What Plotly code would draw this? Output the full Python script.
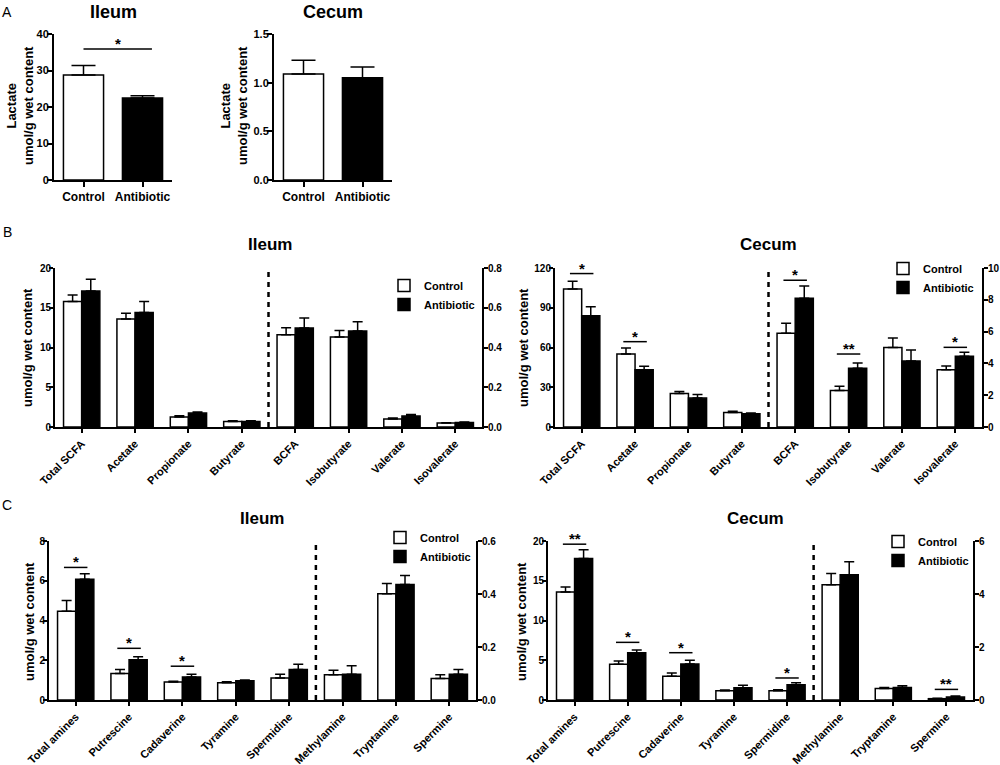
import plotly.graph_objects as go

W, H = 1000, 765
FONT = "Liberation Sans, Arial, sans-serif"

# ---- A: lactate (mean, SEM)
lactate_groups = ["Control", "Antibiotic"]
lactate_ileum = [28.8, 22.5]
lactate_ileum_sem = [2.6, 0.6]
lactate_cecum = [1.09, 1.05]
lactate_cecum_sem = [0.14, 0.11]
lactate_ileum_sig = 35.9

# ---- B: short chain fatty acids
scfa_names = ["Total SCFA", "Acetate", "Propionate", "Butyrate",
              "BCFA", "Isobutyrate", "Valerate", "Isovalerate"]
scfa_split = 4  # first 4 on left axis, rest on right axis

scfa_ileum_ctrl = [15.8, 13.6, 1.25, 0.70, 0.464, 0.453, 0.040, 0.020]
scfa_ileum_ctrl_sem = [0.8, 0.7, 0.15, 0.10, 0.036, 0.033, 0.005, 0.002]
scfa_ileum_abx = [17.1, 14.4, 1.75, 0.70, 0.498, 0.483, 0.055, 0.023]
scfa_ileum_abx_sem = [1.5, 1.4, 0.15, 0.08, 0.050, 0.047, 0.008, 0.002]
scfa_ileum_sig = []

scfa_cecum_ctrl = [104.2, 55.1, 25.3, 11.0, 5.9, 2.3, 5.0, 3.6]
scfa_cecum_ctrl_sem = [5.8, 4.5, 1.5, 0.8, 0.63, 0.27, 0.6, 0.24]
scfa_cecum_abx = [84.0, 43.3, 21.8, 10.0, 8.1, 3.7, 4.15, 4.45]
scfa_cecum_abx_sem = [6.7, 2.6, 2.8, 0.5, 0.77, 0.33, 0.7, 0.25]
# (category index, bracket height, label)
scfa_cecum_sig = [(0, 115.8, "*"), (1, 64.4, "*"), (4, 9.23, "*"),
                  (5, 4.59, "**"), (7, 5.01, "*")]

# ---- C: biogenic amines
amine_names = ["Total amines", "Putrescine", "Cadaverine", "Tyramine",
               "Spermidine", "Methylamine", "Tryptamine", "Spermine"]
amine_split = 5

amine_ileum_ctrl = [4.47, 1.33, 0.91, 0.87, 1.11, 0.095, 0.401, 0.081]
amine_ileum_ctrl_sem = [0.53, 0.20, 0.03, 0.05, 0.18, 0.017, 0.039, 0.014]
amine_ileum_abx = [6.08, 2.02, 1.16, 0.97, 1.53, 0.097, 0.436, 0.097]
amine_ileum_abx_sem = [0.27, 0.16, 0.13, 0.03, 0.27, 0.032, 0.034, 0.018]
amine_ileum_sig = [(0, 6.67, "*"), (1, 2.6, "*"), (2, 1.7, "*")]

amine_cecum_ctrl = [13.6, 4.49, 3.0, 1.17, 1.17, 4.35, 0.43, 0.05]
amine_cecum_ctrl_sem = [0.6, 0.41, 0.4, 0.09, 0.13, 0.42, 0.04, 0.013]
amine_cecum_abx = [17.8, 5.95, 4.53, 1.55, 1.93, 4.73, 0.47, 0.11]
amine_cecum_abx_sem = [1.1, 0.35, 0.47, 0.30, 0.25, 0.49, 0.07, 0.04]
amine_cecum_sig = [(0, 19.6, "**"), (1, 7.25, "*"), (2, 5.95, "*"),
                   (4, 2.77, "*"), (7, 0.4, "**")]


def xd(a, b):
    return [a / W, b / W]


def yd(top, bottom):
    return [1 - bottom / H, 1 - top / H]


def tick_font(size=10):
    return dict(family=FONT, size=size, color="black", weight="bold")


def title_font(size=13):
    return dict(family=FONT, size=size, color="black", weight="bold")


AXIS = dict(showline=True, linecolor="black", linewidth=2, ticks="outside",
            ticklen=5, tickwidth=2, tickcolor="black", showgrid=False,
            zeroline=False, automargin=False, fixedrange=True)

fig = go.Figure()
shapes, notes = [], []


def bar(x, y, sem, fill, xa, ya, width, offset, name, legend=None, cap=5):
    return go.Bar(
        x=x, y=y, xaxis=xa, yaxis=ya, width=width, offset=offset, name=name,
        marker=dict(color=fill, line=dict(color="black", width=1.5)),
        error_y=dict(type="data", symmetric=False, array=sem,
                     arrayminus=[0] * len(sem), color="black",
                     thickness=1.5, width=cap),
        showlegend=legend is not None, legend=legend or "legend",
        hoverinfo="skip",
    )


def bracket(xa, ya, i, h, label, half=0.22):
    shapes.append(dict(type="line", xref=xa, yref=ya, x0=i - half, x1=i + half,
                       y0=h, y1=h, line=dict(color="black", width=1.5)))
    notes.append(dict(xref=xa, yref=ya, x=i, y=h, text=label, showarrow=False,
                      yanchor="bottom", yshift=-5, font=title_font(15)))


def text(x, y, s, size=17, angle=0, bold=True):
    font = title_font(size) if bold else dict(family=FONT, size=size, color="black")
    notes.append(dict(xref="paper", yref="paper", x=x / W, y=1 - y / H,
                      text=s, showarrow=False, xanchor="center",
                      yanchor="middle", textangle=angle, font=font))


# ---- panel A
for k, (vals, sem, dom, top, dt, fmt) in enumerate([
    (lactate_ileum, lactate_ileum_sem, (54, 172), 40, 10, "d"),
    (lactate_cecum, lactate_cecum_sem, (274, 392), 1.5, 0.5, ".1f"),
]):
    n = k + 1
    sfx = "" if n == 1 else str(n)
    xa, ya = f"x{sfx}", f"y{sfx}"
    for i, fill in enumerate(["white", "black"]):
        fig.add_trace(bar([i], [vals[i]], [sem[i]], fill, xa, ya, 0.68, -0.34,
                          lactate_groups[i], cap=12))
    fig.layout[f"xaxis{sfx}"] = dict(
        AXIS, domain=xd(*dom), anchor=ya, range=[-0.5, 1.5], tickvals=[0, 1],
        ticktext=lactate_groups, tickfont=tick_font(12))
    fig.layout[f"yaxis{sfx}"] = dict(
        AXIS, domain=yd(34, 180), anchor=xa, range=[0, top], dtick=dt,
        tickformat=fmt, tickfont=tick_font(11), ticklabelstandoff=-4)
text(20, 106, "Lactate<br>umol/g wet content", 13, -90)
text(234, 106, "Lactate<br>umol/g wet content", 13, -90)
bracket("x", "y", 0.58, lactate_ileum_sig, "*", half=0.58)
text(113, 12, "Ileum", 18)
text(333, 12, "Cecum", 18)


# ---- panels B and C
def grouped(n, yl, names, split, ctrl, ctrl_sem, abx, abx_sem, sig,
            xdom, ydom, ltop, ldt, rtop, rdt, rfmt, legend, legxy):
    xa, ya, yb = f"x{n}", f"y{yl}", f"y{yl + 1}"
    m = len(names)
    parts = [(list(range(split)), slice(0, split), ya),
             (list(range(split, m)), slice(split, m), yb)]
    for j, (pos, sl, axis) in enumerate(parts):
        lg = legend if j == 0 else None
        fig.add_trace(bar(pos, ctrl[sl], ctrl_sem[sl], "white", xa, axis,
                          0.34, -0.34, "Control", lg))
        fig.add_trace(bar(pos, abx[sl], abx_sem[sl], "black", xa, axis,
                          0.34, 0.0, "Antibiotic", lg))
    fig.layout[f"xaxis{n}"] = dict(
        AXIS, domain=xd(*xdom), anchor=ya, range=[-0.5, m - 0.5],
        tickvals=list(range(m)), ticktext=names, tickangle=-45, ticklen=4,
        tickfont=tick_font(11))
    fig.layout[f"yaxis{yl}"] = dict(
        AXIS, domain=yd(*ydom), anchor=xa, range=[0, ltop], dtick=ldt,
        tickfont=tick_font(10), ticklen=4, ticklabelstandoff=-4)
    fig.layout[f"yaxis{yl + 1}"] = dict(
        AXIS, overlaying=ya, side="right", anchor=xa, range=[0, rtop],
        dtick=rdt, tickformat=rfmt, tickfont=tick_font(10), ticklen=4,
        ticklabelstandoff=-2)
    shapes.append(dict(type="line", xref=xa, yref=f"{ya} domain",
                       x0=split - 0.5, x1=split - 0.5, y0=0, y1=0.98,
                       line=dict(color="black", width=2.5, dash="5px,5px")))
    for i, h, label in sig:
        bracket(xa, ya if i < split else yb, i, h, label)
    fig.layout[legend] = dict(
        x=legxy[0] / W, y=1 - legxy[1] / H, xanchor="left", yanchor="top",
        bgcolor="rgba(0,0,0,0)", traceorder="normal", itemwidth=30,
        font=dict(family=FONT, size=11, color="black", weight="bold"))


grouped(3, 3, scfa_names, scfa_split, scfa_ileum_ctrl, scfa_ileum_ctrl_sem,
        scfa_ileum_abx, scfa_ileum_abx_sem, scfa_ileum_sig,
        (55, 482), (268, 427), 20, 5, 0.8, 0.2, ".1f", "legend", (384, 271))
grouped(4, 5, scfa_names, scfa_split, scfa_cecum_ctrl, scfa_cecum_ctrl_sem,
        scfa_cecum_abx, scfa_cecum_abx_sem, scfa_cecum_sig,
        (555, 982), (268, 427), 120, 30, 10, 2, "d", "legend2", (883, 254))
grouped(5, 7, amine_names, amine_split, amine_ileum_ctrl, amine_ileum_ctrl_sem,
        amine_ileum_abx, amine_ileum_abx_sem, amine_ileum_sig,
        (49, 476), (541, 700), 8, 2, 0.6, 0.2, ".1f", "legend3", (380, 523))
grouped(6, 9, amine_names, amine_split, amine_cecum_ctrl, amine_cecum_ctrl_sem,
        amine_cecum_abx, amine_cecum_abx_sem, amine_cecum_sig,
        (548, 973), (541, 700), 20, 5, 6, 2, "d", "legend4", (878, 527))

for x, y in [(28, 348), (524, 348), (29, 622), (521, 622)]:
    text(x, y, "umol/g wet content", 13, -90)

text(270, 245, "Ileum")
text(768, 245, "Cecum")
text(262, 518, "Ileum")
text(755, 518, "Cecum")

for lab, x, y in [("A", 7, 12), ("B", 7, 232), ("C", 7, 505)]:
    text(x, y, lab, 14, bold=False)

fig.update_layout(
    width=W, height=H, margin=dict(l=0, r=0, t=0, b=0),
    template="none", paper_bgcolor="white", plot_bgcolor="white",
    barmode="overlay", shapes=shapes, annotations=notes,
    font=dict(family=FONT, color="black"),
)

# page body margin would otherwise shift the figure by 8px
fig.write_html("out.html", config={"displayModeBar": False}, post_script=(
    "document.body.style.margin='0';document.body.style.overflow='hidden';"))
